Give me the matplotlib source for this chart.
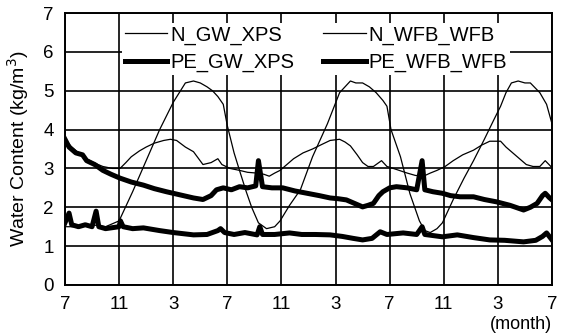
import numpy as np
import matplotlib
matplotlib.use('Agg')
import matplotlib.pyplot as plt

# months counted from the first July (0 .. 36)
tick_pos = [0, 4, 8, 12, 16, 20, 24, 28, 32, 36]
tick_labels = ['7', '11', '3', '7', '11', '3', '7', '11', '3', '7']

n_gw_m = [0, 1, 2, 3, 4.0, 5.0, 6.0, 7.0, 8.0, 8.9, 9.5, 10.0, 10.5, 10.9, 11.3, 11.7, 12.0,
          12.5, 12.9, 13.4, 13.8, 14.3, 14.9, 15.5, 15.9, 16.6, 17.4, 18.3, 19.4, 20.3, 21.1,
          21.5, 22.0, 22.5, 23.0, 23.5, 23.8, 24.1, 24.8, 25.5, 26.2, 26.6, 27.0, 27.5, 27.9,
          28.7, 29.5, 30.2, 31.0, 31.7, 32.2, 32.6, 33.0, 33.5, 34.0, 34.4, 35.1, 35.6, 36]
n_gw_v = [1.5, 1.5, 1.55, 1.5, 1.65, 2.4, 3.2, 4.0, 4.7, 5.2, 5.25, 5.2, 5.1, 5.0, 4.85, 4.65, 4.1,
          3.4, 2.95, 2.4, 2.0, 1.6, 1.45, 1.5, 1.65, 2.05, 2.45, 3.3, 4.15, 4.95, 5.25,
          5.2, 5.2, 5.1, 4.95, 4.75, 4.6, 4.0, 3.3, 2.35, 1.65, 1.4, 1.35, 1.45, 1.6,
          2.2, 2.75, 3.2, 3.75, 4.25, 4.6, 4.95, 5.2, 5.25, 5.2, 5.2, 4.95, 4.65, 4.15]

n_wfb_m = [0, 0.5, 1.0, 1.6, 2.1, 2.8, 3.5, 4.07, 4.5, 4.9, 5.5, 6.0, 6.6, 7.3, 7.8, 8.25, 8.9,
           9.5, 10.2, 10.8, 11.3, 11.6, 12.2, 12.9, 13.5, 14.2, 14.7, 15.1, 15.5, 15.9, 16.4,
           16.9, 17.6, 18.3, 19.0, 19.6, 20.3, 20.7, 21.1, 21.6, 22.0, 22.4, 22.8, 23.4, 23.8,
           24.1, 24.7, 25.3, 25.9, 26.5, 27.0, 27.5, 28.1, 28.7, 29.4, 30.2, 30.8, 31.4, 32.2,
           32.6, 33.1, 33.6, 34.1, 34.6, 35.1, 35.5, 36]
n_wfb_v = [3.75, 3.55, 3.4, 3.25, 3.15, 3.05, 3.0, 3.0, 3.15, 3.3, 3.45, 3.55, 3.65, 3.72, 3.75,
           3.72, 3.55, 3.43, 3.1, 3.15, 3.25, 3.1, 3.0, 2.95, 2.9, 2.88, 2.85, 2.8, 2.88, 2.95,
           3.1, 3.25, 3.4, 3.5, 3.62, 3.72, 3.75, 3.68, 3.58, 3.35, 3.15, 3.05, 3.05, 3.2, 3.05,
           3.02, 2.95, 2.88, 2.82, 2.8, 2.88, 2.95, 3.05, 3.2, 3.35, 3.47, 3.6, 3.7, 3.7,
           3.55, 3.4, 3.25, 3.1, 3.05, 3.05, 3.2, 3.02]

pe_gw_m = [0, 0.3, 0.5, 1.0, 1.5, 2.0, 2.3, 2.5, 3.0, 4.0, 4.1, 4.3, 5.0, 5.8, 7.0, 8.0, 9.5,
           10.5, 11.3, 11.5, 11.8, 12.5, 13.3, 14.2, 14.4, 14.6, 15.5, 16.6, 17.5, 18.5, 19.6,
           20.5, 21.3, 22.0, 22.7, 23.3, 23.8, 25.0, 26.0, 26.4, 26.6, 27.9, 29.0, 30.2, 31.4,
           32.5, 33.9, 34.8, 35.3, 35.6, 36]
pe_gw_v = [1.6, 1.85, 1.55, 1.5, 1.55, 1.5, 1.9, 1.5, 1.45, 1.5, 1.65, 1.5, 1.45, 1.47, 1.4,
           1.35, 1.29, 1.3, 1.4, 1.45, 1.35, 1.3, 1.35, 1.29, 1.5, 1.3, 1.3, 1.34, 1.3, 1.3, 1.29,
           1.25, 1.2, 1.16, 1.2, 1.37, 1.3, 1.34, 1.3, 1.5, 1.3, 1.24, 1.29, 1.22, 1.16,
           1.15, 1.11, 1.15, 1.25, 1.34, 1.16]

pe_wfb_m = [0, 0.3, 0.8, 1.3, 1.6, 2.2, 2.8, 3.4, 4.07, 4.9, 5.8, 6.6, 7.5, 8.5, 9.5, 10.2,
            10.8, 11.2, 11.7, 12.3, 12.9, 13.5, 14.1, 14.3, 14.6, 15.3, 16.1, 17.0, 17.9, 18.8,
            19.6, 20.2, 20.8, 21.4, 22.0, 22.4, 22.8, 23.2, 23.5, 24.0, 24.5, 25.3, 26.0, 26.4,
            26.6, 27.2, 27.9, 28.5, 29.2, 30.2, 31.0, 31.9, 32.9, 33.9, 34.4, 34.9, 35.3, 35.5,
            35.8, 36]
pe_wfb_v = [3.75, 3.55, 3.4, 3.35, 3.2, 3.1, 2.95, 2.85, 2.75, 2.65, 2.57, 2.48, 2.4, 2.32,
            2.24, 2.2, 2.3, 2.45, 2.5, 2.45, 2.53, 2.5, 2.55, 3.2, 2.53, 2.5, 2.5, 2.42, 2.36,
            2.3, 2.24, 2.22, 2.19, 2.1, 2.01, 2.05, 2.1, 2.3, 2.4, 2.5, 2.53, 2.5, 2.45, 3.2,
            2.45, 2.4, 2.36, 2.3, 2.27, 2.27, 2.2, 2.14, 2.05, 1.93, 2.0, 2.1, 2.3, 2.36, 2.25,
            2.19]

plt.rcParams['font.family'] = ['Liberation Sans', 'DejaVu Sans']

fig = plt.figure(figsize=(5.71, 3.36), dpi=100)
ax = fig.add_axes([0.1138, 0.1518, 0.8529, 0.8095])

thin = 0.9
thick = 3.6
ax.plot(n_gw_m, n_gw_v, color='black', lw=thin, label='N_GW_XPS', zorder=3)
ax.plot(pe_gw_m, pe_gw_v, color='black', lw=thick, label='PE_GW_XPS', zorder=3)
ax.plot(n_wfb_m, n_wfb_v, color='black', lw=thin, label='N_WFB_WFB', zorder=3)
ax.plot(pe_wfb_m, pe_wfb_v, color='black', lw=thick, label='PE_WFB_WFB', zorder=3)

ax.set_xlim(0, 36)
ax.set_ylim(0, 7)
ax.set_xticks(tick_pos)
ax.set_xticklabels(tick_labels)
ax.set_yticks(range(8))
ax.tick_params(length=0, labelsize=13.5, pad=8)
ax.grid(True, color='black', lw=1.2)
ax.set_axisbelow(True)
for s in ax.spines.values():
    s.set_linewidth(1.4)

ax.set_ylabel('Water Content (kg/m$^3$)', fontsize=14)
ax.yaxis.set_label_coords(-0.07, 0.5)
ax.text(1.0, -0.145, '(month)', transform=ax.transAxes, ha='right', va='center', fontsize=13)

leg = ax.legend(ncol=2, loc='upper left', bbox_to_anchor=(0.117, 0.965), fontsize=14.5,
                frameon=True, fancybox=False, edgecolor='none', facecolor='white',
                framealpha=1, handlelength=2.1, handletextpad=0.15, columnspacing=1.45,
                labelspacing=0.4, borderpad=0.15, borderaxespad=0)
leg.set_zorder(5)

plt.savefig('out.png', dpi=100)
